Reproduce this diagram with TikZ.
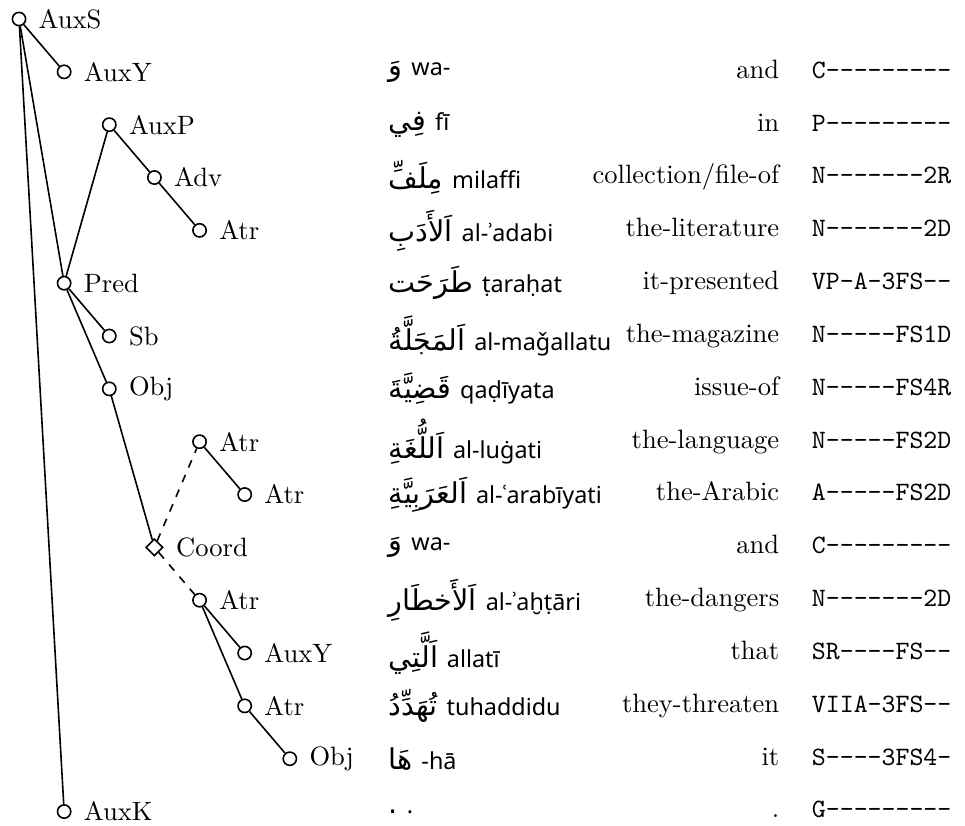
\documentclass[tikz,border=0pt]{standalone}
\usepackage{fontspec}
\newfontfamily\arabicfont[Script=Arabic,Scale=1.08]{DejaVu Sans}
\newfontfamily\translitfont[Scale=0.88]{Noto Sans}
\TeXXeTstate=1
\usetikzlibrary{shapes.geometric}
\tikzset{
  dep/.style={circle,draw,fill=white,inner sep=0pt,minimum size=5pt},
  coordnode/.style={diamond,draw,fill=white,inner sep=0pt,minimum size=6.5pt},
  wordcol/.style={anchor=west,inner sep=0pt},
  glosscol/.style={anchor=base east,inner sep=0pt,yshift=-2.4pt},
  tagcol/.style={anchor=base west,inner sep=0pt,yshift=-2.4pt,font=\ttfamily}}
\newcommand\arword[2]{{\arabicfont\beginR #1\endR}~{\translitfont #2}}

\begin{document}
\begin{tikzpicture}[x=17pt,y=-19.9pt,line width=0.6pt,label distance=1pt]
\useasboundingbox (-7.16pt,7.16pt) rectangle (356.3pt,-303.57pt);
% the tree
\node[dep,label=right:AuxS]  (auxs)  at (0,0)  {};
\node[dep,label=right:AuxY]  (auxy1) at (1,1)  {};
\node[dep,label=right:AuxP]  (auxp)  at (2,2)  {};
\node[dep,label=right:Adv]   (adv)   at (3,3)  {};
\node[dep,label=right:Atr]   (atr1)  at (4,4)  {};
\node[dep,label=right:Pred]  (pred)  at (1,5)  {};
\node[dep,label=right:Sb]    (sb)    at (2,6)  {};
\node[dep,label=right:Obj]   (obj1)  at (2,7)  {};
\node[dep,label=right:Atr]   (atr2)  at (4,8)  {};
\node[dep,label=right:Atr]   (atr3)  at (5,9)  {};
\node[coordnode,label=right:Coord] (coord) at (3,10) {};
\node[dep,label=right:Atr]   (atr4)  at (4,11) {};
\node[dep,label=right:AuxY]  (auxy2) at (5,12) {};
\node[dep,label=right:Atr]   (atr5)  at (5,13) {};
\node[dep,label=right:Obj]   (obj2)  at (6,14) {};
\node[dep,label=right:AuxK]  (auxk)  at (1,15) {};
\draw (auxs) -- (auxy1);
\draw (auxs) -- (pred);
\draw (auxs) -- (auxk);
\draw (pred) -- (auxp) -- (adv) -- (atr1);
\draw (pred) -- (sb);
\draw (pred) -- (obj1) -- (coord);
\draw[dashed] (coord) -- (atr2);
\draw (atr2) -- (atr3);
\draw[dashed] (coord) -- (atr4);
\draw (atr4) -- (auxy2);
\draw (atr4) -- (atr5) -- (obj2);
% words
\node[wordcol] (w1)  at (8.175,1)  {\arword{وَ}{wa-}};
\node[wordcol] (w2)  at (8.175,2)  {\arword{فِي}{fī}};
\node[wordcol] (w3)  at (8.175,3)  {\arword{مِلَفِّ}{milaffi}};
\node[wordcol] (w4)  at (8.175,4)  {\arword{اَلأَدَبِ}{al-ʾadabi}};
\node[wordcol] (w5)  at (8.175,5)  {\arword{طَرَحَت}{ṭaraḥat}};
\node[wordcol] (w6)  at (8.175,6)  {\arword{اَلمَجَلَّةُ}{al-maǧallatu}};
\node[wordcol] (w7)  at (8.175,7)  {\arword{قَضِيَّةَ}{qaḍīyata}};
\node[wordcol] (w8)  at (8.175,8)  {\arword{اَللُّغَةِ}{al-luġati}};
\node[wordcol] (w9)  at (8.175,9)  {\arword{اَلعَرَبِيَّةِ}{al-ʿarabīyati}};
\node[wordcol] (w10) at (8.175,10) {\arword{وَ}{wa-}};
\node[wordcol] (w11) at (8.175,11) {\arword{اَلأَخطَارِ}{al-ʾaḫṭāri}};
\node[wordcol] (w12) at (8.175,12) {\arword{اَلَّتِي}{allatī}};
\node[wordcol] (w13) at (8.175,13) {\arword{تُهَدِّدُ}{tuhaddidu}};
\node[wordcol] (w14) at (8.175,14) {\arword{هَا}{-hā}};
\node[wordcol] (w15) at (8.175,15) {\arword{.}{.}};
% glosses
\node[glosscol] (g1)  at (16.86,1)  {and};
\node[glosscol] (g2)  at (16.86,2)  {in};
\node[glosscol] (g3)  at (16.86,3)  {collection/file-of};
\node[glosscol] (g4)  at (16.86,4)  {the-literature};
\node[glosscol] (g5)  at (16.86,5)  {it-presented};
\node[glosscol] (g6)  at (16.86,6)  {the-magazine};
\node[glosscol] (g7)  at (16.86,7)  {issue-of};
\node[glosscol] (g8)  at (16.86,8)  {the-language};
\node[glosscol] (g9)  at (16.86,9)  {the-Arabic};
\node[glosscol] (g10) at (16.86,10) {and};
\node[glosscol] (g11) at (16.86,11) {the-dangers};
\node[glosscol] (g12) at (16.86,12) {that};
\node[glosscol] (g13) at (16.86,13) {they-threaten};
\node[glosscol] (g14) at (16.86,14) {it};
\node[glosscol] (g15) at (16.86,15) {.};
% tags
\node[tagcol] (t1)  at (17.55,1)  {C---------};
\node[tagcol] (t2)  at (17.55,2)  {P---------};
\node[tagcol] (t3)  at (17.55,3)  {N-------2R};
\node[tagcol] (t4)  at (17.55,4)  {N-------2D};
\node[tagcol] (t5)  at (17.55,5)  {VP-A-3FS--};
\node[tagcol] (t6)  at (17.55,6)  {N-----FS1D};
\node[tagcol] (t7)  at (17.55,7)  {N-----FS4R};
\node[tagcol] (t8)  at (17.55,8)  {N-----FS2D};
\node[tagcol] (t9)  at (17.55,9)  {A-----FS2D};
\node[tagcol] (t10) at (17.55,10) {C---------};
\node[tagcol] (t11) at (17.55,11) {N-------2D};
\node[tagcol] (t12) at (17.55,12) {SR----FS--};
\node[tagcol] (t13) at (17.55,13) {VIIA-3FS--};
\node[tagcol] (t14) at (17.55,14) {S----3FS4-};
\node[tagcol] (t15) at (17.55,15) {G---------};
\end{tikzpicture}
\end{document}
